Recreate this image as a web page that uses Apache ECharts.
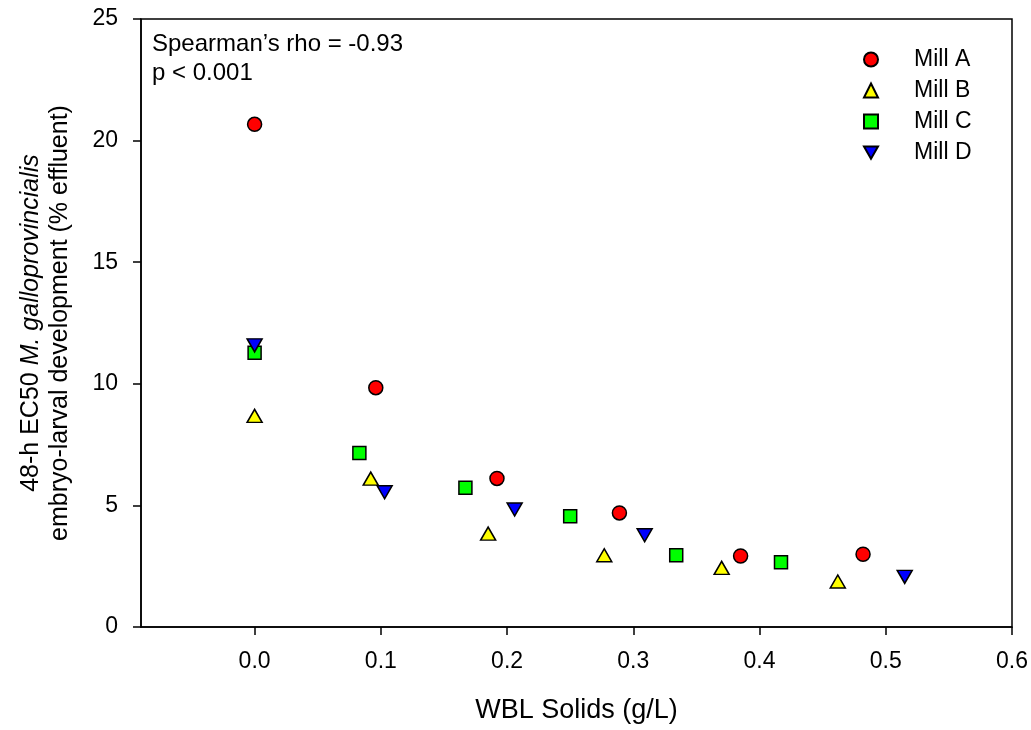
<!DOCTYPE html>
<html>
<head>
<meta charset="utf-8">
<script src="https://cdn.jsdelivr.net/npm/echarts@6/dist/echarts.min.js"></script>
<style>
  html, body { margin: 0; padding: 0; background: #fff; }
  #chart { width: 1031px; height: 730px; }
</style>
</head>
<body>
<div id="chart"></div>
<script>
// WBL solids (g/L) vs 48-h EC50 per mill
const MILLS = ['Mill A', 'Mill B', 'Mill C', 'Mill D'];
const millA_x = [0, 0.096, 0.192, 0.289, 0.385, 0.482];
const millA_y = [20.67, 9.84, 6.11, 4.69, 2.92, 2.99];
const millB_x = [0, 0.092, 0.185, 0.277, 0.370, 0.462];
const millB_y = [8.68, 6.10, 3.84, 2.95, 2.43, 1.87];
const millC_x = [0, 0.083, 0.167, 0.250, 0.334, 0.417];
const millC_y = [11.28, 7.15, 5.73, 4.55, 2.95, 2.66];
const millD_x = [0, 0.103, 0.206, 0.309, 0.515];
const millD_y = [11.58, 5.54, 4.83, 3.77, 2.06];
const X_TICKS = [0, 0.1, 0.2, 0.3, 0.4, 0.5, 0.6];

const FONT = '"Liberation Sans", Arial, sans-serif';
const zip = (xs, ys) => xs.map((x, i) => [x, ys[i]]);

const markers = [
  { data: zip(millA_x, millA_y), symbol: 'circle', size: 14, color: '#ff0000' },
  { data: zip(millB_x, millB_y), symbol: 'triangle', size: [15, 13], color: '#ffff00' },
  { data: zip(millC_x, millC_y), symbol: 'rect', size: 13, color: '#00ff00' },
  { data: zip(millD_x, millD_y), symbol: 'path://M0,0L2,0L1,1.75Z', size: [15, 13], color: '#0000ff' },
];

const chart = echarts.init(document.getElementById('chart'), null, { renderer: 'canvas' });

chart.setOption({
  backgroundColor: '#fff',
  animation: false,
  textStyle: { fontFamily: FONT },
  grid: {
    left: 141, right: 19, top: 19, bottom: 103,
    show: true, borderColor: '#000', borderWidth: 1.5,
  },
  legend: {
    orient: 'vertical', left: 858, top: 43,
    itemWidth: 14, itemHeight: 14, itemGap: 8,
    textStyle: { fontFamily: FONT, fontSize: 23, lineHeight: 22, color: '#000', padding: [0, 0, 0, 31] },
    data: MILLS,
  },
  graphic: [{
    type: 'text', left: 152, top: 30,
    style: {
      text: 'Spearman\u2019s rho = -0.93\np < 0.001',
      font: '24px ' + FONT, fill: '#000', lineHeight: 29,
    },
  }],
  xAxis: {
    type: 'value', min: -0.09, max: 0.6,
    name: 'WBL Solids (g/L)', nameLocation: 'middle', nameGap: 70,
    nameTextStyle: { fontFamily: FONT, fontSize: 27, color: '#000', verticalAlign: 'top' },
    axisLine: { onZero: false, lineStyle: { color: '#000', width: 1.5 } },
    axisTick: { show: true, customValues: X_TICKS, length: 8, lineStyle: { color: '#000', width: 1.5 } },
    axisLabel: {
      customValues: X_TICKS, margin: 23, color: '#000', fontSize: 23, fontFamily: FONT,
      formatter: v => v.toFixed(1),
    },
    splitLine: { show: false },
  },
  yAxis: {
    type: 'value', min: 0, max: 25, interval: 5,
    name: '48-h EC50 {i|M. galloprovincialis}\nembryo-larval development (% effluent)',
    nameLocation: 'middle', nameRotate: 90, nameGap: 66,
    nameTextStyle: {
      fontFamily: FONT, fontSize: 25, color: '#000', lineHeight: 29,
      rich: { i: { fontFamily: FONT, fontSize: 25, fontStyle: 'italic', color: '#000', lineHeight: 29 } },
    },
    axisLine: { show: true, onZero: false, lineStyle: { color: '#000', width: 1.5 } },
    axisTick: { show: true, length: 8, lineStyle: { color: '#000', width: 1.5 } },
    axisLabel: { margin: 23, color: '#000', fontSize: 23, fontFamily: FONT },
    splitLine: { show: false },
  },
  series: markers.map((m, i) => ({
    name: MILLS[i],
    type: 'scatter',
    data: m.data,
    symbol: m.symbol,
    symbolSize: m.size,
    itemStyle: { color: m.color, borderColor: '#000', borderWidth: 1.5, opacity: 1 },
  })),
});
</script>
</body>
</html>
